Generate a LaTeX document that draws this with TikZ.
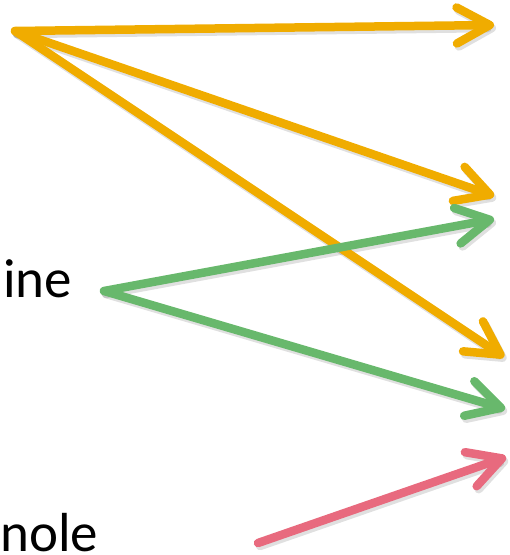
\documentclass[tikz,border=0pt]{standalone}
\usepackage{fontspec}
\setmainfont{Carlito}
\usetikzlibrary{arrows.meta}
\definecolor{aorange}{HTML}{F0AC00}
\definecolor{agreen}{HTML}{68B86C}
\definecolor{ared}{HTML}{E86A7E}
\begin{document}
\begin{tikzpicture}[x=1pt,y=-1pt,
  conn/.style={line width=8.5pt, line cap=round,
    -{Straight Barb[length=33pt,width=36pt,round]}},
  shadowline/.style={conn, draw=black, opacity=0.12, transform canvas={shift={(2pt,-3pt)}}},
  lbl/.style={anchor=base west, inner sep=0pt, font=\fontsize{55}{60}\selectfont}]
\useasboundingbox (0,0) rectangle (510,555);
\node[lbl] (tine) at (3,297) {ine};
\node[lbl] (tnole) at (0,551) {nole};
\coordinate (oA) at (15,31);
\coordinate (oT1) at (494,25);
\coordinate (oT2) at (494,196);
\coordinate (oT3) at (504,357);
\coordinate (gA) at (104,291);
\coordinate (gT1) at (494,219);
\coordinate (gT2) at (505,409);
\coordinate (rS) at (258,543);
\coordinate (rT) at (506,457);
% shadows
\foreach \a/\b in {oA/oT1,oA/oT2,oA/oT3,gA/gT1,gA/gT2,rS/rT}
  \draw[shadowline] (\a) -- (\b);
\draw[conn, aorange] (oA) -- (oT1);
\draw[conn, aorange] (oA) -- (oT2);
\draw[conn, aorange] (oA) -- (oT3);
\draw[conn, agreen] (gA) -- (gT1);
\draw[conn, agreen] (gA) -- (gT2);
\draw[conn, ared] (rS) -- (rT);
\end{tikzpicture}
\end{document}
